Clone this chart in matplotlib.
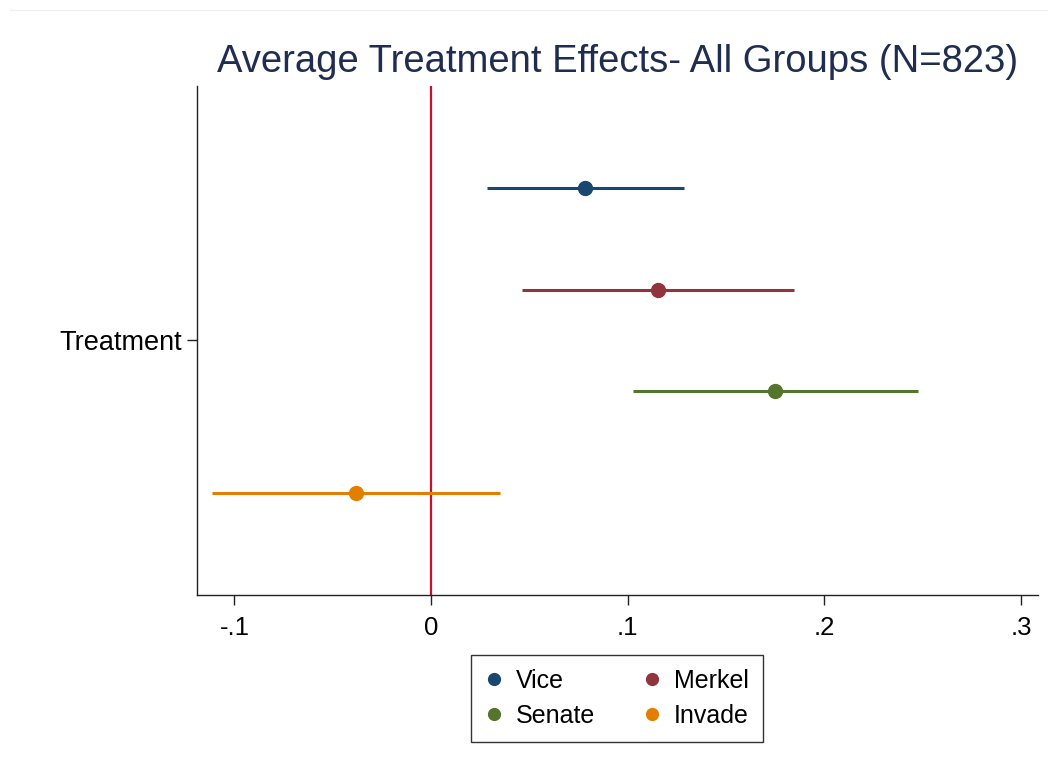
import matplotlib
matplotlib.use("Agg")
import matplotlib.pyplot as plt
from matplotlib.lines import Line2D

plt.rcParams['font.family'] = ['Liberation Sans', 'DejaVu Sans']

groups = ["Vice", "Merkel", "Senate", "Invade"]
estimates = [0.0783, 0.1154, 0.1749, -0.0381]
ci_low = [0.0285, 0.0463, 0.1027, -0.1113]
ci_high = [0.1286, 0.1845, 0.2476, 0.0351]
offsets = [-0.3, -0.1, 0.1, 0.3]
colors = ["#1a476f", "#90353b", "#55752f", "#e37e00"]
xticks = [-0.1, 0, 0.1, 0.2, 0.3]
xtick_labels = ["-.1", "0", ".1", ".2", ".3"]

fig = plt.figure(figsize=(10.57, 7.69), dpi=100)
ax = fig.add_axes([0.1864, 0.2263, 0.7957, 0.6619])

ax.axvline(0, color="#c8102e", lw=1.6, zorder=1)

handles = []
for g, est, lo, hi, off, c in zip(groups, estimates, ci_low, ci_high, offsets, colors):
    y = 1 + off
    ax.plot([lo, hi], [y, y], color=c, lw=2.2, solid_capstyle="butt", zorder=2)
    ax.plot([est], [y], "o", color=c, ms=10, zorder=3)
    handles.append(Line2D([], [], ls="none", marker="o", color=c, ms=8.5, label=g))

ax.set_xlim(-0.119, 0.3086)
ax.set_ylim(1.5, 0.5)
ax.set_xticks(xticks)
ax.set_xticklabels(xtick_labels)
ax.set_yticks([1])
ax.set_yticklabels(["Treatment"])
ax.tick_params(axis="both", labelsize=18.5, length=7, width=1, direction="out", colors="#222222", labelcolor="black")
ax.tick_params(axis="x", pad=8)
ax.tick_params(axis="y", pad=4, labelsize=19.5)

for side in ["top", "right"]:
    ax.spines[side].set_visible(False)
for side in ["left", "bottom"]:
    ax.spines[side].set_color("#222222")
    ax.spines[side].set_linewidth(1)

ax.set_title("Average Treatment Effects- All Groups (N=823)", fontsize=27.5, color="#1e2d50", pad=10)

# legend order: row-wise Vice, Merkel / Senate, Invade
order = [0, 2, 1, 3]
leg = fig.legend([handles[i] for i in order], [groups[i] for i in order], ncol=2,
                 loc="center", bbox_to_anchor=(617 / 1057, 1 - 698.5 / 769),
                 fontsize=18, frameon=True, fancybox=False, edgecolor="black",
                 handlelength=0.7, handletextpad=0.55, columnspacing=1.9,
                 labelspacing=0.45, borderpad=0.55)
leg.get_frame().set_linewidth(1)

fig.add_artist(Line2D([10 / 1057, 1047 / 1057], [1 - 10 / 769, 1 - 10 / 769], color="#f0f0f0", lw=1))

fig.savefig("out.png", dpi=100)
